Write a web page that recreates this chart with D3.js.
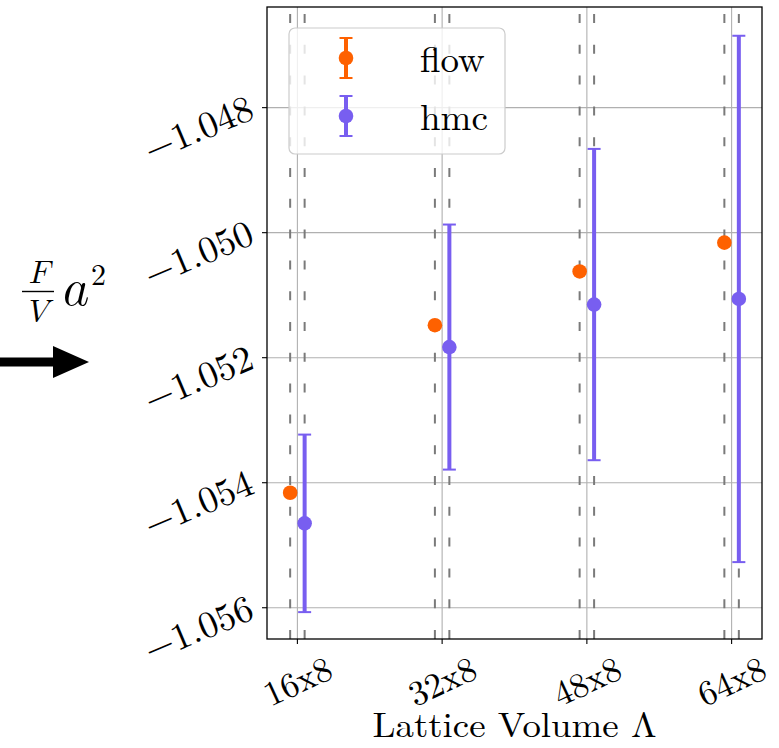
<!DOCTYPE html>
<html>
<head>
<meta charset="utf-8">
<script src="https://cdn.jsdelivr.net/npm/d3@7"></script>
<style>
  html, body { margin: 0; padding: 0; background: #fff; }
  svg { display: block; }
</style>
</head>
<body>
<div id="chart"></div>
<script>
// ---- data ----
const categories = ["16x8", "32x8", "48x8", "64x8"];
const flowValues = [-1.05416, -1.05148, -1.05062, -1.05016];
const flowErrors = [0, 0, 0, 0];
const hmcValues  = [-1.05465, -1.05183, -1.05115, -1.05106];
const hmcErrors  = [0.00142, 0.00196, 0.00249, 0.00421];
const yTickValues = [-1.056, -1.054, -1.052, -1.050, -1.048];
const seriesNames = ["flow", "hmc"];
const seriesColors = ["#fe6100", "#785ef0"];

// ---- layout ----
const W = 779, H = 748;
const plot = { left: 267, right: 762, top: 7, bottom: 639 };
const offset = 0.05;
const SERIF = "'Latin Modern Roman'";
const MATH = "'Latin Modern Math'";

const svg = d3.select("#chart").append("svg").attr("width", W).attr("height", H);

const x = d3.scaleLinear().domain([-0.21, 3.21]).range([plot.left, plot.right]);
const y = d3.scaleLinear().domain([-1.05650, -1.04639]).range([plot.bottom, plot.top]);

function T(sel, fam) { return sel.style("font-family", fam || SERIF).attr("fill", "#000"); }

// grid
const grid = svg.append("g");
grid.selectAll("line.gx").data(categories).join("line")
  .attr("x1", (d, i) => x(i)).attr("x2", (d, i) => x(i))
  .attr("y1", plot.top).attr("y2", plot.bottom)
  .attr("stroke", "#b0b0b0").attr("stroke-width", 1.1);
grid.selectAll("line.gy").data(yTickValues).join("line")
  .attr("x1", plot.left).attr("x2", plot.right)
  .attr("y1", d => y(d)).attr("y2", d => y(d))
  .attr("stroke", "#b0b0b0").attr("stroke-width", 1.1);

// dashed vertical lines at each series position (drawn bottom -> top)
const dashG = svg.append("g");
[-offset, offset].forEach(off => {
  dashG.selectAll(null).data(categories).join("line")
    .attr("x1", (d, i) => x(i + off)).attr("x2", (d, i) => x(i + off))
    .attr("y1", plot.bottom).attr("y2", plot.top)
    .attr("stroke", "#7a7a7a").attr("stroke-width", 2)
    .attr("stroke-dasharray", "9,21.8");
});

// error bars + points
function drawSeries(vals, errs, off, color) {
  const g = svg.append("g");
  const data = vals.map((v, i) => ({ i, v, e: errs[i] }));
  g.selectAll("line.bar").data(data).join("line")
    .attr("x1", d => x(d.i + off)).attr("x2", d => x(d.i + off))
    .attr("y1", d => y(d.v - d.e)).attr("y2", d => y(d.v + d.e))
    .attr("stroke", color).attr("stroke-width", 4);
  ["lo", "hi"].forEach(k => {
    g.selectAll(null).data(data).join("line")
      .attr("x1", d => x(d.i + off) - 6.5).attr("x2", d => x(d.i + off) + 6.5)
      .attr("y1", d => y(k === "lo" ? d.v - d.e : d.v + d.e))
      .attr("y2", d => y(k === "lo" ? d.v - d.e : d.v + d.e))
      .attr("stroke", color).attr("stroke-width", 2);
  });
  g.selectAll("circle").data(data).join("circle")
    .attr("cx", d => x(d.i + off)).attr("cy", d => y(d.v))
    .attr("r", 7.3).attr("fill", color);
}
drawSeries(flowValues, flowErrors, -offset, seriesColors[0]);
drawSeries(hmcValues, hmcErrors, offset, seriesColors[1]);

// spines
svg.append("rect")
  .attr("x", plot.left).attr("y", plot.top)
  .attr("width", plot.right - plot.left).attr("height", plot.bottom - plot.top)
  .attr("fill", "none").attr("stroke", "#000").attr("stroke-width", 1.3);

// x axis ticks + labels
const xt = svg.append("g");
xt.selectAll("line").data(categories).join("line")
  .attr("x1", (d, i) => x(i)).attr("x2", (d, i) => x(i))
  .attr("y1", plot.bottom).attr("y2", plot.bottom + 5)
  .attr("stroke", "#000").attr("stroke-width", 1.1);
T(xt.selectAll("text").data(categories).join("text"))
  .attr("transform", (d, i) => `translate(${x(i)},${681}) rotate(-25)`)
  .attr("text-anchor", "middle").attr("dy", "0.35em")
  .attr("font-size", 35)
  .text(d => d);

// y axis ticks + labels
const fmt = d3.format(".3f");
const yt = svg.append("g");
yt.selectAll("line").data(yTickValues).join("line")
  .attr("x1", plot.left - 5).attr("x2", plot.left)
  .attr("y1", d => y(d)).attr("y2", d => y(d))
  .attr("stroke", "#000").attr("stroke-width", 1.1);
T(yt.selectAll("text").data(yTickValues).join("text"))
  .attr("transform", d => `translate(${plot.left - 11},${y(d) + 10}) rotate(-23)`)
  .attr("text-anchor", "end")
  .attr("font-size", 37.5)
  .text(d => fmt(d));

// x label
T(svg.append("text"))
  .attr("x", (plot.left + plot.right) / 2).attr("y", 737)
  .attr("text-anchor", "middle").attr("font-size", 35.5)
  .attr("textLength", 284).attr("lengthAdjust", "spacingAndGlyphs")
  .text("Lattice Volume Λ");

// y label: F/V a^2 (horizontal) with arrow
const yl = svg.append("g");
T(yl.append("text"), MATH).attr("x", 39).attr("y", 283).attr("text-anchor", "middle")
  .attr("font-size", 32).text("\u{1D439}");
yl.append("line").attr("x1", 22).attr("x2", 54).attr("y1", 291.5).attr("y2", 291.5)
  .attr("stroke", "#000").attr("stroke-width", 1.4);
T(yl.append("text"), MATH).attr("x", 38).attr("y", 322).attr("text-anchor", "middle")
  .attr("font-size", 32).text("\u{1D449}");
T(yl.append("text"), MATH).attr("x", 63).attr("y", 305)
  .attr("font-size", 50).text("\u{1D44E}");
T(yl.append("text"), MATH).attr("x", 91).attr("y", 285)
  .attr("font-size", 30).text("2");
yl.append("line").attr("x1", 0).attr("x2", 58).attr("y1", 362).attr("y2", 362)
  .attr("stroke", "#000").attr("stroke-width", 9);
yl.append("path").attr("d", "M53,346 L89,362 L53,378 Z").attr("fill", "#000");

// legend
const lg = svg.append("g");
lg.append("rect").attr("x", 289).attr("y", 28).attr("width", 216).attr("height", 126)
  .attr("rx", 6).attr("fill", "#fff").attr("fill-opacity", 0.8)
  .attr("stroke", "#cccccc").attr("stroke-width", 1.2);
seriesNames.forEach((name, k) => {
  const cy = 58 + k * 58, cx = 346, col = seriesColors[k];
  lg.append("line").attr("x1", cx).attr("x2", cx).attr("y1", cy - 20).attr("y2", cy + 20)
    .attr("stroke", col).attr("stroke-width", 4);
  [cy - 20, cy + 20].forEach(yy => lg.append("line")
    .attr("x1", cx - 6.5).attr("x2", cx + 6.5).attr("y1", yy).attr("y2", yy)
    .attr("stroke", col).attr("stroke-width", 2));
  lg.append("circle").attr("cx", cx).attr("cy", cy).attr("r", 7.3).attr("fill", col);
  T(lg.append("text")).attr("x", 420).attr("y", cy + 14).attr("font-size", 37).text(name);
});
</script>
</body>
</html>
